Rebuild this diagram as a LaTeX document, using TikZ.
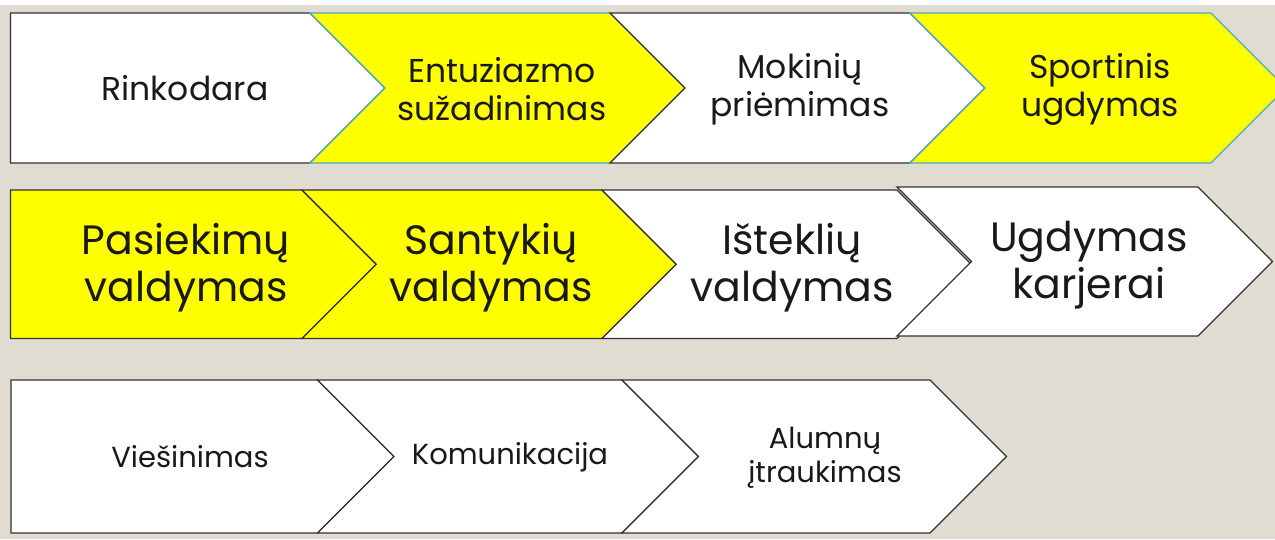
\documentclass[tikz,border=0pt]{standalone}
\usepackage{fontspec}
\setmainfont{Poppins}
\definecolor{bgbeige}{RGB}{224,220,209}
\definecolor{hlyellow}{RGB}{255,255,0}
\definecolor{edgeblue}{RGB}{75,172,198}
\definecolor{edgedark}{RGB}{50,50,50}
\definecolor{txtdark}{RGB}{25,25,25}
\tikzset{
  plainbox/.style={fill=white,draw=edgedark,line width=1.3pt,line join=miter},
  yellowblue/.style={fill=hlyellow,draw=edgeblue,line width=1.2pt,line join=miter},
  yellowdark/.style={fill=hlyellow,draw=edgedark,line width=1.3pt,line join=miter},
  labA/.style={align=center,text=txtdark,font=\fontsize{33}{38}\selectfont,inner sep=0pt},
  labB/.style={align=center,text=txtdark,font=\fontsize{41}{47}\selectfont,inner sep=0pt},
  labC/.style={align=center,text=txtdark,font=\fontsize{29}{34}\selectfont,inner sep=0pt},
}
% #1 style, #2 left x, #3 top-right x, #4 top y, #5 bottom y
\newcommand\drawchev[5]{%
  \path[#1] (#2,#4) -- (#3,#4) -- ({#3+(#5-#4)/2},{(#4+#5)/2}) -- (#3,#5) -- (#2,#5)
    -- ({#2+(#5-#4)/2},{(#4+#5)/2}) -- cycle;}
\newcommand\drawfirstchev[5]{%
  \path[#1] (#2,#4) -- (#3,#4) -- ({#3+(#5-#4)/2},{(#4+#5)/2}) -- (#3,#5) -- (#2,#5) -- cycle;}
\begin{document}
\begin{tikzpicture}[x=1pt,y=-1pt]
\useasboundingbox (0,0) rectangle (1275,539);
\clip (0,0) rectangle (1275,539);
\fill[bgbeige] (0,0) rectangle (1275,539);
\fill[white] (0,0) rectangle (1275,5);
% row 1
\drawfirstchev{plainbox}{10.5}{310}{13}{163}
\drawchev{yellowblue}{310}{610}{13}{163}
\drawchev{plainbox}{610}{910}{13}{163}
\drawchev{yellowblue}{910}{1211}{13}{163}
\node[labA] (rinko) at (185,88) {Rinkodara};
\node[labA] (entu) at (502,89) {Entuziazmo\\sužadinimas};
\node[labA] (moki) at (800,89) {Mokinių\\priėmimas};
\node[labA] (sport) at (1100,89) {Sportinis\\ugdymas};
% row 2
\drawfirstchev{yellowdark}{10.5}{302}{190}{338.5}
\drawchev{yellowdark}{302}{602}{190}{338.5}
\drawchev{plainbox}{602}{897}{190}{338.5}
\drawchev{plainbox}{897}{1198}{187}{336}
\node[labB] (pasi) at (186,268) {Pasiekimų\\valdymas};
\node[labB] (santy) at (491,268) {Santykių\\valdymas};
\node[labB] (istek) at (792,268) {Išteklių\\valdymas};
\node[labB] (ugdk) at (1089,265) {Ugdymas\\karjerai};
% row 3
\drawfirstchev{plainbox}{11}{317.5}{380}{533}
\drawchev{plainbox}{317.5}{622}{380}{533}
\drawchev{plainbox}{622}{930}{380}{533}
\node[labC] (vies) at (190,457) {Viešinimas};
\node[labC] (komu) at (510,457) {Komunikacija};
\node[labC] (alum) at (825,458) {Alumnų\\įtraukimas};
\end{tikzpicture}
\end{document}
